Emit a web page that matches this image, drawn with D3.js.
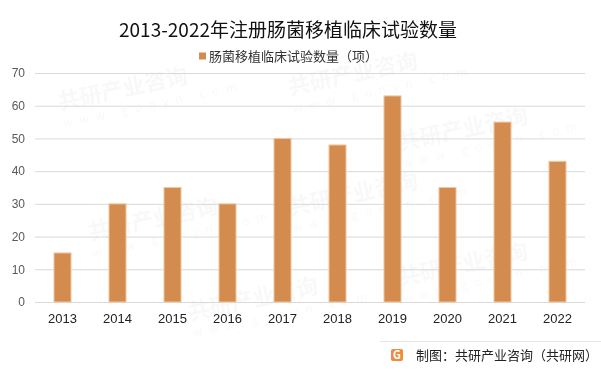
<!DOCTYPE html>
<html>
<head>
<meta charset="utf-8">
<script src="https://cdn.jsdelivr.net/npm/d3@7/dist/d3.min.js"></script>
<style>
  body { margin: 0; background: #fff; }
  svg { display: block; font-family: "Microsoft YaHei", "Noto Sans CJK SC", sans-serif; }
</style>
</head>
<body>
<div class="vis-holder"></div>
<script>
// data
var years = ["2013", "2014", "2015", "2016", "2017", "2018", "2019", "2020", "2021", "2022"];
var trials = [15, 30, 35, 30, 50, 48, 63, 35, 55, 43];
var yTicks = [0, 10, 20, 30, 40, 50, 60, 70];

var titleText = "2013-2022年注册肠菌移植临床试验数量";
var legendText = "肠菌移植临床试验数量（项）";
var sourceText = "制图：共研产业咨询（共研网）";

var width = 601;
var height = 373;
var margin = { top: 73, bottom: 71, left: 35, right: 16 };

var svg = d3.select(".vis-holder")
      .append("svg")
      .attr("width", width)
      .attr("height", height);

// faint watermarks
var wm = svg.append("g").attr("fill", "#000").attr("opacity", 0.03)
      .attr("font-weight", "bold");
[[60, 110], [290, 95], [400, 150], [90, 240], [290, 215], [400, 285], [190, 320]]
  .forEach(function(p) {
    var g = wm.append("g").attr("transform", "translate(" + p[0] + "," + p[1] + ") rotate(-12)");
    g.append("text").attr("font-size", 22).text("共研产业咨询");
    g.append("text").attr("y", 18).attr("font-size", 12).attr("letter-spacing", 7)
      .attr("font-weight", "normal").text("www.gonyn.com");
  });

var xScale = d3.scaleBand()
      .domain(years)
      .range([margin.left, width - margin.right])
      .paddingInner(0.69)
      .paddingOuter(0.345);

var yScale = d3.scaleLinear()
      .domain([0, 70])
      .range([height - margin.bottom, margin.top]);

// gridlines
svg.append("g")
    .selectAll("line")
    .data(yTicks)
    .join("line")
    .attr("x1", margin.left)
    .attr("x2", width - margin.right)
    .attr("y1", function(d) { return yScale(d) + 0.5; })
    .attr("y2", function(d) { return yScale(d) + 0.5; })
    .attr("stroke", "#d9d9d9")
    .attr("stroke-width", 1);

// y axis labels
var yAxis = d3.axisLeft(yScale).tickValues(yTicks).tickSize(0).tickPadding(10);
svg.append("g")
    .attr("class", "y axis")
    .attr("transform", "translate(" + margin.left + ",0)")
    .call(yAxis)
    .call(function(g) { g.select(".domain").remove(); })
    .selectAll("text")
    .attr("font-size", 12)
    .attr("fill", "#595959")
    .attr("font-family", "Liberation Sans, Arial, sans-serif");

// bars
svg.append("g")
    .selectAll("rect")
    .data(trials)
    .join("rect")
    .attr("x", function(d, i) { return xScale(years[i]); })
    .attr("y", function(d) { return yScale(d); })
    .attr("width", xScale.bandwidth())
    .attr("height", function(d) { return yScale(0) - yScale(d); })
    .attr("fill", "#d38b4e")
    .attr("stroke", "#f0c9a4")
    .attr("stroke-width", 1);

// x axis labels
var xAxis = d3.axisBottom(xScale).tickSize(0).tickPadding(12);
svg.append("g")
    .attr("class", "x axis")
    .attr("transform", "translate(0," + yScale(0) + ")")
    .call(xAxis)
    .call(function(g) { g.select(".domain").remove(); })
    .selectAll("text")
    .attr("font-size", 13)
    .attr("fill", "#222")
    .attr("font-family", "Liberation Sans, Arial, sans-serif");

// title
svg.append("text")
    .attr("x", 288)
    .attr("y", 37)
    .attr("text-anchor", "middle")
    .attr("font-size", 19)
    .attr("fill", "#111")
    .text(titleText);

// legend
svg.append("rect")
    .attr("x", 199)
    .attr("y", 52.5)
    .attr("width", 7)
    .attr("height", 7)
    .attr("fill", "#d38b4e");
svg.append("text")
    .attr("x", 209)
    .attr("y", 61)
    .attr("font-size", 13)
    .attr("fill", "#333")
    .text(legendText);

// footer
svg.append("line")
    .attr("x1", 380).attr("x2", width)
    .attr("y1", 341.5).attr("y2", 341.5)
    .attr("stroke", "#e6e6e6");
var logo = svg.append("g").attr("transform", "translate(391,349)");
logo.append("rect").attr("width", 12).attr("height", 12).attr("rx", 2).attr("fill", "#f08a3c");
logo.append("text").attr("x", 6).attr("y", 10).attr("text-anchor", "middle")
    .attr("font-size", 11).attr("font-weight", "bold").attr("fill", "#fff").text("G");
svg.append("text")
    .attr("x", 416)
    .attr("y", 360)
    .attr("font-size", 13)
    .attr("fill", "#222")
    .text(sourceText);
</script>
</body>
</html>
